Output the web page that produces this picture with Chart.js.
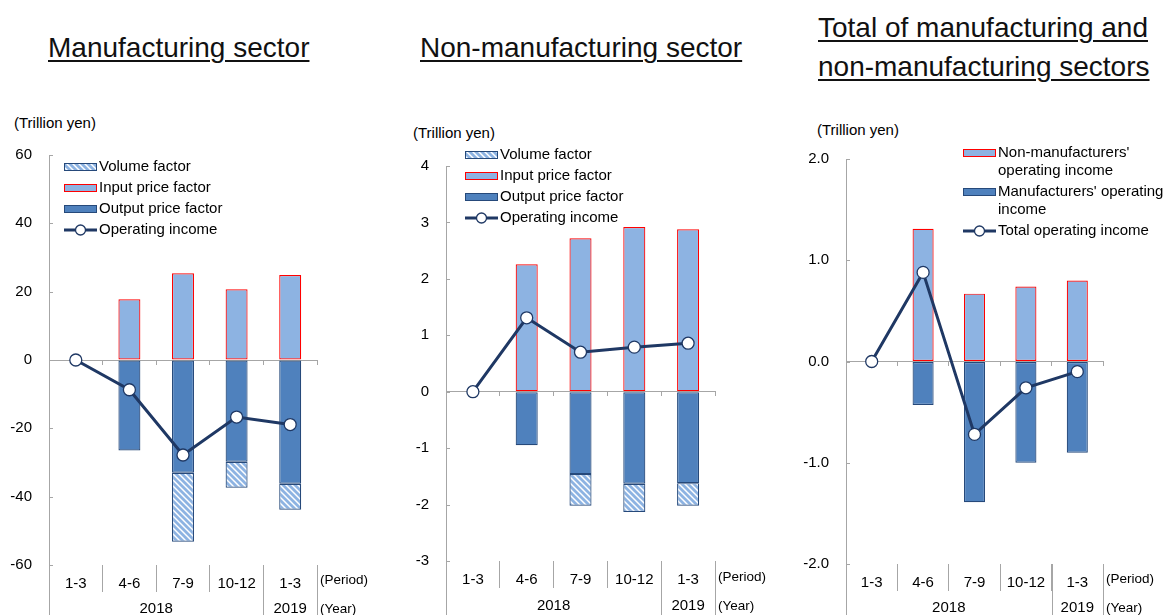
<!DOCTYPE html>
<html>
<head>
<meta charset="utf-8">
<script src="https://cdn.jsdelivr.net/npm/chart.js@4.4.1/dist/chart.umd.min.js"></script>
<style>
  body { margin:0; background:#fff; width:1166px; height:615px; position:relative; overflow:hidden;
         font-family:"Liberation Sans", Arial, sans-serif; color:#000; }
  canvas { position:absolute; top:100px; }
  .title { position:absolute; font-size:28px; text-decoration:underline; text-underline-offset:3px;
           text-decoration-thickness:1.5px; white-space:nowrap; line-height:39px; color:#111; }
  .unit { position:absolute; font-size:15px; white-space:nowrap; }
</style>
</head>
<body>
<div class="title" style="left:48px;top:28px;">Manufacturing sector</div>
<div class="title" style="left:420px;top:28px;">Non-manufacturing sector</div>
<div class="title" style="left:818px;top:8px;">Total of manufacturing and<br>non-manufacturing sectors</div>
<div class="unit" style="left:14px;top:114px;">(Trillion yen)</div>
<div class="unit" style="left:413px;top:124px;">(Trillion yen)</div>
<div class="unit" style="left:817px;top:121px;">(Trillion yen)</div>

<canvas id="c1" width="400" height="515" style="left:0px"></canvas>
<canvas id="c2" width="400" height="515" style="left:400px"></canvas>
<canvas id="c3" width="376" height="515" style="left:790px"></canvas>

<script>
const periods = ['1-3', '4-6', '7-9', '10-12', '1-3'];
const years = ['2018', '2019'];
const yearSpans = [4, 1];

// Manufacturing sector
const mfgVolume = [null, null, -20.2, -7.6, -7.6];
const mfgInput  = [null, 17.8, 25.4, 20.7, 24.9];
const mfgOutput = [null, -26.5, -33.0, -29.8, -36.2];
const mfgIncome = [0, -8.7, -27.8, -16.7, -18.9];

// Non-manufacturing sector
const nonVolume = [null, null, -0.56, -0.50, -0.40];
const nonInput  = [null, 2.26, 2.72, 2.92, 2.88];
const nonOutput = [null, -0.95, -1.46, -1.63, -1.62];
const nonIncome = [0, 1.31, 0.70, 0.79, 0.86];

// Total
const totNon    = [null, 1.31, 0.67, 0.74, 0.80];
const totMfg    = [null, -0.43, -1.39, -1.00, -0.90];
const totIncome = [0, 0.88, -0.72, -0.26, -0.10];

const AXIS = '#a6a6a6';
const LIGHT = '#8db3e2';
const MID = '#4f81bd';
const NAVY = '#1f3864';
const BARLINE = '#26497a';
const FONT = '"Liberation Sans", Arial, sans-serif';

function hatch() {
  const c = document.createElement('canvas');
  c.width = 6; c.height = 6;
  const g = c.getContext('2d');
  g.fillStyle = '#fff';
  g.fillRect(0, 0, 6, 6);
  g.strokeStyle = LIGHT;
  g.lineWidth = 2.8;
  g.beginPath();
  for (const k of [-6, 0, 6]) { g.moveTo(k - 1, -1); g.lineTo(k + 7, 7); }
  g.stroke();
  return g.createPattern(c, 'repeat');
}
const HATCH = hatch();

function barSet(label, data, fill, stroke) {
  return { type:'bar', label, data, backgroundColor: fill, borderColor: stroke, borderWidth: 1.2,
           borderSkipped: false, order: 1, categoryPercentage: 1, barPercentage: 0.41 };
}
function lineSet(label, data) {
  return { type:'line', label, data, borderColor: NAVY, borderWidth: 3, pointRadius: 6,
           pointBackgroundColor: '#fff', pointBorderColor: NAVY, pointBorderWidth: 1.3, order: 0 };
}

const decor = {
  id: 'decor',
  afterDraw(chart, args, opts) {
    const ctx = chart.ctx, a = chart.chartArea;
    const xs = chart.scales.x, ys = chart.scales.y;
    const step = xs.getPixelForValue(1) - xs.getPixelForValue(0);
    const edge = i => xs.getPixelForValue(0) - step / 2 + i * step;
    ctx.save();
    ctx.strokeStyle = AXIS;
    ctx.lineWidth = 1;
    // inner y ticks
    ys.ticks.forEach(t => {
      const y = Math.round(ys.getPixelForValue(t.value)) + 0.5;
      ctx.beginPath(); ctx.moveTo(a.left, y); ctx.lineTo(a.left + 4, y); ctx.stroke();
    });
    // separators running down through the year row
    let pos = 0;
    const cuts = [0];
    yearSpans.forEach(s => { pos += s; cuts.push(pos); });
    cuts.forEach(i => {
      const x = Math.round(edge(i)) + 0.5;
      ctx.beginPath(); ctx.moveTo(x, a.bottom); ctx.lineTo(x, chart.height); ctx.stroke();
    });
    // year labels
    ctx.fillStyle = '#000';
    ctx.textBaseline = 'middle';
    ctx.textAlign = 'center';
    ctx.font = '15px ' + FONT;
    years.forEach((y, k) => {
      ctx.fillText(y, (edge(cuts[k]) + edge(cuts[k + 1])) / 2, a.bottom + opts.yearDy);
    });
    ctx.textAlign = 'left';
    ctx.font = '13.5px ' + FONT;
    ctx.fillText('(Period)', a.right + 3, a.bottom + opts.yearDy - 29);
    ctx.fillText('(Year)', a.right + 3, a.bottom + opts.yearDy);
    // legend
    ctx.font = '15px ' + FONT;
    let ly = opts.legendY;
    opts.legendOrder.forEach(i => {
      const ds = chart.data.datasets[i];
      const lx = opts.legendX;
      if (ds.type === 'line') {
        ctx.strokeStyle = NAVY; ctx.lineWidth = 3;
        ctx.beginPath(); ctx.moveTo(lx, ly); ctx.lineTo(lx + 33, ly); ctx.stroke();
        ctx.fillStyle = '#fff'; ctx.lineWidth = 1.3;
        ctx.beginPath(); ctx.arc(lx + 16.5, ly, 5, 0, Math.PI * 2); ctx.fill(); ctx.stroke();
      } else {
        ctx.fillStyle = ds.backgroundColor;
        ctx.fillRect(lx, ly - 4, 33, 8);
        ctx.strokeStyle = ds.borderColor; ctx.lineWidth = 1;
        ctx.strokeRect(lx + 0.5, ly - 3.5, 32, 7);
      }
      ctx.fillStyle = '#000';
      const lines = ds.label.split('\n');
      lines.forEach((t, j) => ctx.fillText(t, lx + 35, ly + j * 18));
      ly += 21 + (lines.length - 1) * 18;
    });
    ctx.restore();
  }
};

function makeChart(id, o) {
  const tickFont = { family: FONT, size: 15 };
  return new Chart(document.getElementById(id), {
    type: 'bar',
    data: { labels: periods, datasets: o.datasets },
    options: {
      responsive: false,
      animation: false,
      layout: { padding: o.padding },
      plugins: { legend: { display: false }, tooltip: { enabled: false }, decor: o.decor },
      scales: {
        x: {
          stacked: true, offset: true,
          grid: { offset: true, drawOnChartArea: false, tickLength: 27, color: AXIS },
          border: { display: false },
          ticks: { font: tickFont, color: '#000', padding: -17, maxRotation: 0, autoSkip: false },
          afterFit: s => { s.height = o.bottom; }
        },
        x0: {
          type: 'category', axis: 'x', position: { y: 0 }, offset: true,
          grid: { offset: true, drawOnChartArea: false, tickLength: 4, color: AXIS },
          border: { color: AXIS },
          ticks: { display: false }
        },
        y: {
          stacked: true, min: o.min, max: o.max,
          grid: { drawOnChartArea: false, drawTicks: false },
          border: { color: AXIS },
          ticks: { stepSize: o.step, font: tickFont, color: '#000', padding: 17, callback: o.fmt },
          afterFit: s => { s.width = o.left; }
        }
      }
    },
    plugins: [decor]
  });
}

makeChart('c1', {
  datasets: [
    barSet('Input price factor', mfgInput, LIGHT, '#ff0000'),
    barSet('Output price factor', mfgOutput, MID, BARLINE),
    barSet('Volume factor', mfgVolume, HATCH, BARLINE),
    lineSet('Operating income', mfgIncome)
  ],
  min: -60, max: 60, step: 20, fmt: v => v,
  left: 49, bottom: 50, padding: { top: 55, right: 83, left: 0, bottom: 0 },
  decor: { legendX: 64, legendY: 67, legendOrder: [2, 0, 1, 3], yearDy: 44 }
});

makeChart('c2', {
  datasets: [
    barSet('Input price factor', nonInput, LIGHT, '#ff0000'),
    barSet('Output price factor', nonOutput, MID, BARLINE),
    barSet('Volume factor', nonVolume, HATCH, BARLINE),
    lineSet('Operating income', nonIncome)
  ],
  min: -3, max: 4, step: 1, fmt: v => v,
  left: 46, bottom: 54, padding: { top: 66, right: 85, left: 0, bottom: 0 },
  decor: { legendX: 65, legendY: 55, legendOrder: [2, 0, 1, 3], yearDy: 45 }
});

makeChart('c3', {
  datasets: [
    barSet("Non-manufacturers'\noperating income", totNon, LIGHT, '#ff0000'),
    barSet("Manufacturers' operating\nincome", totMfg, MID, BARLINE),
    lineSet('Total operating income', totIncome)
  ],
  min: -2, max: 2, step: 1, fmt: v => Number(v).toFixed(1),
  left: 56, bottom: 51, padding: { top: 59, right: 63, left: 0, bottom: 0 },
  decor: { legendX: 173, legendY: 53, legendOrder: [0, 1, 2], yearDy: 44 }
});
</script>
</body>
</html>
